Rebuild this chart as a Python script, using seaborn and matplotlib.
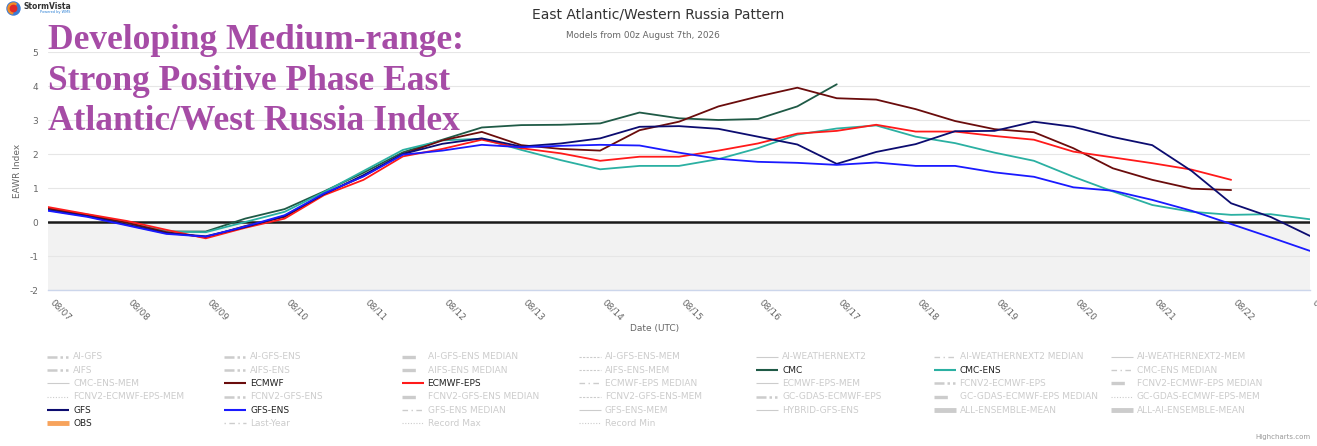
import numpy as np
import pandas as pd
import matplotlib
matplotlib.use("Agg")
import matplotlib.pyplot as plt
import matplotlib.dates as mdates
import matplotlib.transforms as mtrans
from matplotlib.patches import Circle, Wedge
import seaborn as sns

# ---------------- data (12-hourly, from 08/07 00z) ----------------
start = "2026-08-07"
cmc = [0.38, 0.20, -0.03, -0.28, -0.28, 0.10, 0.38, 0.90, 1.45, 2.05, 2.42,
       2.78, 2.85, 2.86, 2.90, 3.22, 3.05, 3.00, 3.03, 3.40, 4.05]
cmc_ens = [0.40, 0.22, -0.02, -0.28, -0.30, 0.00, 0.30, 0.88, 1.50, 2.12, 2.40,
           2.45, 2.12, 1.82, 1.55, 1.65, 1.65, 1.85, 2.17, 2.57, 2.75,
           2.84, 2.51, 2.32, 2.04, 1.80, 1.33, 0.90, 0.50, 0.30, 0.21, 0.23, 0.08]
ecmwf = [0.40, 0.20, -0.02, -0.30, -0.45, -0.12, 0.15, 0.82, 1.35, 2.00, 2.40,
         2.65, 2.26, 2.15, 2.10, 2.70, 2.95, 3.40, 3.69, 3.95, 3.64,
         3.60, 3.32, 2.97, 2.73, 2.64, 2.17, 1.58, 1.24, 0.98, 0.94]
ecmwf_eps = [0.44, 0.23, 0.03, -0.23, -0.48, -0.17, 0.10, 0.79, 1.24, 1.93, 2.15,
             2.42, 2.17, 2.02, 1.80, 1.92, 1.92, 2.10, 2.31, 2.60, 2.68,
             2.86, 2.66, 2.66, 2.53, 2.42, 2.07, 1.90, 1.73, 1.54, 1.24]
gfs = [0.35, 0.17, -0.08, -0.33, -0.42, -0.15, 0.18, 0.82, 1.38, 2.00, 2.30,
       2.46, 2.22, 2.31, 2.46, 2.80, 2.82, 2.74, 2.51, 2.28, 1.71,
       2.06, 2.29, 2.67, 2.68, 2.95, 2.80, 2.50, 2.26, 1.50, 0.55, 0.15, -0.41]
gfs_ens = [0.33, 0.15, -0.10, -0.35, -0.43, -0.13, 0.20, 0.84, 1.34, 1.98, 2.10,
           2.27, 2.20, 2.24, 2.27, 2.25, 2.04, 1.86, 1.77, 1.74, 1.68,
           1.75, 1.65, 1.65, 1.46, 1.33, 1.02, 0.92, 0.65, 0.33, -0.06, -0.45, -0.85]

models = ["CMC", "CMC-ENS", "ECMWF", "ECMWF-EPS", "GFS", "GFS-ENS"]
series = [cmc, cmc_ens, ecmwf, ecmwf_eps, gfs, gfs_ens]
colors = {"CMC": "#1f5a46", "CMC-ENS": "#2bb0a2", "ECMWF": "#6a0c0c",
          "ECMWF-EPS": "#ff1a1a", "GFS": "#0c0c70", "GFS-ENS": "#1a1aff"}

y_ticks = [-2, -1, 0, 1, 2, 3, 4, 5]

legend_labels = [
    "AI-GFS", "AI-GFS-ENS", "AI-GFS-ENS MEDIAN", "AI-GFS-ENS-MEM", "AI-WEATHERNEXT2", "AI-WEATHERNEXT2 MEDIAN", "AI-WEATHERNEXT2-MEM",
    "AIFS", "AIFS-ENS", "AIFS-ENS MEDIAN", "AIFS-ENS-MEM", "CMC", "CMC-ENS", "CMC-ENS MEDIAN",
    "CMC-ENS-MEM", "ECMWF", "ECMWF-EPS", "ECMWF-EPS MEDIAN", "ECMWF-EPS-MEM", "FCNV2-ECMWF-EPS", "FCNV2-ECMWF-EPS MEDIAN",
    "FCNV2-ECMWF-EPS-MEM", "FCNV2-GFS-ENS", "FCNV2-GFS-ENS MEDIAN", "FCNV2-GFS-ENS-MEM", "GC-GDAS-ECMWF-EPS", "GC-GDAS-ECMWF-EPS MEDIAN", "GC-GDAS-ECMWF-EPS-MEM",
    "GFS", "GFS-ENS", "GFS-ENS MEDIAN", "GFS-ENS-MEM", "HYBRID-GFS-ENS", "ALL-ENSEMBLE-MEAN", "ALL-AI-ENSEMBLE-MEAN",
    "OBS", "Last-Year", "Record Max", "Record Min",
]
legend_kinds = [
    "ddd", "ddd", "dthick", "dthin", "sthin", "ddot", "sthin",
    "ddd", "ddd", "dthick", "dthin", "CMC", "CMC-ENS", "ddot",
    "sthin", "ECMWF", "ECMWF-EPS", "ddot", "sthin", "ddd", "dthick",
    "dot", "ddd", "dthick", "dthin", "ddd", "dthick", "dot",
    "GFS", "GFS-ENS", "ddot", "sthin", "sthin", "sthick", "dthick2",
    "OBS", "lastyr", "dot", "dot",
]

# ---------------- build frame ----------------
rows = []
for name, vals in zip(models, series):
    dates = pd.date_range(start, periods=len(vals), freq="12h")
    for d, v in zip(dates, vals):
        rows.append({"date": d, "value": v, "model": name})
df = pd.DataFrame(rows)

W, H = 1317, 446
fig = plt.figure(figsize=(W / 100, H / 100), dpi=100)
sns.set_style("white")
plt.rcParams["font.family"] = ["DejaVu Sans"]

L, R, T, B = 48, 1310, 52, 290
ax = fig.add_axes([L / W, 1 - B / H, (R - L) / W, (B - T) / H])
ax.set_facecolor("white")
ax.axhspan(-2, 0, color="#f2f2f2", zorder=0, lw=0)
for yt in y_ticks:
    if yt != 0:
        ax.axhline(yt, color="#e6e6e6", lw=0.8, zorder=1)
ax.axhline(0, color="#1a1a1a", lw=1.8, zorder=2)

sns.lineplot(data=df, x="date", y="value", hue="model", hue_order=models,
             palette=colors, estimator=None, sort=False, legend=False,
             lw=1.3, ax=ax, zorder=3)

x0 = pd.Timestamp("2026-08-07")
x1 = pd.Timestamp("2026-08-23")
ax.set_xlim(x0, x1)
ax.set_ylim(-2, 5)
ax.set_yticks(y_ticks)
ax.set_yticklabels([str(t) for t in y_ticks])
ax.xaxis.set_major_locator(mdates.DayLocator())
ax.xaxis.set_major_formatter(mdates.DateFormatter("%m/%d"))
for s in ["top", "right", "left"]:
    ax.spines[s].set_visible(False)
ax.spines["bottom"].set_color("#ccd6eb")
ax.spines["bottom"].set_linewidth(1)
ax.tick_params(axis="y", length=0, labelsize=6.5, labelcolor="#666666", pad=7)
ax.tick_params(axis="x", length=5, color="#ccd6eb", labelsize=6.5,
               labelcolor="#666666", pad=3)
offset = mtrans.ScaledTranslation(3 / 100, 0, fig.dpi_scale_trans)
for lab in ax.get_xticklabels():
    lab.set_rotation(-45)
    lab.set_ha("left")
    lab.set_va("center")
    lab.set_rotation_mode("anchor")
    lab.set_transform(lab.get_transform() + offset)
ax.set_xlabel("")
ax.set_ylabel("")
ax.grid(False)

# ---------------- overlay (pixel coords) ----------------
ov = fig.add_axes([0, 0, 1, 1], zorder=5)
ov.set_xlim(0, W)
ov.set_ylim(H, 0)
ov.axis("off")
ov.patch.set_alpha(0)

ov.text(658, 14, "East Atlantic/Western Russia Pattern", ha="center", va="center",
        fontsize=10, color="#333333")
ov.text(643, 36, "Models from 00z August 7th, 2026", ha="center", va="center",
        fontsize=6.4, color="#666666")
ov.text(17, 171, "EAWR Index", rotation=90, ha="center", va="center",
        fontsize=6.5, color="#666666")
ov.text(655, 328, "Date (UTC)", ha="center", va="center", fontsize=6.5, color="#666666")
ov.text(1311, 437, "Highcharts.com", ha="right", va="center", fontsize=5, color="#999999")

purple = "#a64ca6"
for txt, yb in [("Developing Medium-range:", 49),
                ("Strong Positive Phase East", 90),
                ("Atlantic/West Russia Index", 130)]:
    ov.text(48, yb, txt, ha="left", va="baseline", fontsize=25.5, fontweight="bold",
            family=["Liberation Serif", "DejaVu Serif"], color=purple)

# logo
ov.add_patch(Circle((13.5, 8.5), 6.5, color="#3a7bd5", zorder=6))
ov.add_patch(Wedge((13.5, 8.5), 5.5, 100, 300, color="#f28c28", zorder=7))
ov.add_patch(Circle((13.5, 8.5), 3.2, color="#e02828", zorder=8))
ov.text(23, 6.5, "StormVista", ha="left", va="center", fontsize=5.5,
        fontweight="bold", color="#333333")
ov.text(40, 12.5, "Powered by WMS", ha="left", va="center", fontsize=2.5, color="#2a7fd4")

# legend
col_x = [47 + 177.3 * i for i in range(7)]
row_y = [356.7 + 13.33 * i for i in range(6)]
gray = "#cccccc"
styles = {
    "ddd": dict(ls=(0, (4, 1.2, 1, 1.2, 1, 1.2, 1, 1.2)), lw=1.8),
    "dthick": dict(ls=(0, (4, 3)), lw=2.4),
    "dthin": dict(ls=(0, (2, 1.2)), lw=0.8),
    "sthin": dict(ls="-", lw=0.8),
    "ddot": dict(ls=(0, (4, 2.5, 1, 2.5)), lw=1.0),
    "dot": dict(ls=(0, (1, 1.5)), lw=0.8),
    "sthick": dict(ls="-", lw=3.5),
    "dthick2": dict(ls=(0, (7, 1.5, 2.5, 1.5)), lw=3.5),
    "lastyr": dict(ls=(0, (1, 2.5, 4, 2.5)), lw=1.0),
}
SW = 22
for i, (lab, kind) in enumerate(zip(legend_labels, legend_kinds)):
    r, c = divmod(i, 7)
    x, y = col_x[c], row_y[r]
    if kind in colors:
        ov.plot([x, x + SW], [y, y], color=colors[kind], lw=1.5, solid_capstyle="butt")
        tc = "#222222"
    elif kind == "OBS":
        ov.plot([x, x + SW], [y, y], color="#f7a35c", lw=3.5, solid_capstyle="butt")
        tc = "#222222"
    else:
        st = styles[kind]
        ov.plot([x, x + SW], [y, y], color=gray, lw=st["lw"], ls=st["ls"],
                solid_capstyle="butt", dash_capstyle="butt")
        tc = gray
    ov.text(x + 26, y, lab, ha="left", va="center", fontsize=6.5, color=tc)

fig.savefig("out.png", dpi=100)
